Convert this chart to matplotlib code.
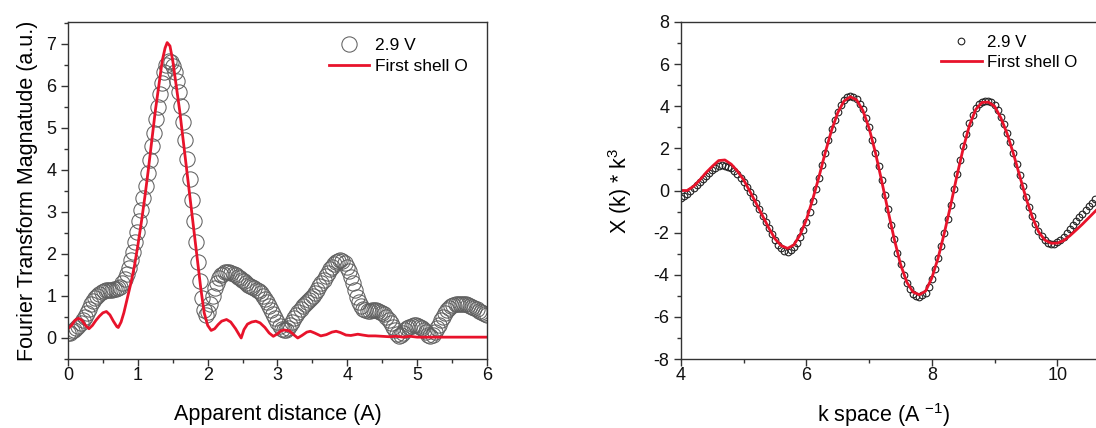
import numpy as np
import matplotlib
matplotlib.use('Agg')
import matplotlib.pyplot as plt
from matplotlib.ticker import MultipleLocator

plt.rcParams['font.family'] = ['Liberation Sans', 'DejaVu Sans']
plt.rcParams['mathtext.fontset'] = 'custom'
plt.rcParams['mathtext.rm'] = 'Liberation Sans'
plt.rcParams['mathtext.it'] = 'Liberation Sans:italic'
plt.rcParams['axes.unicode_minus'] = False

# ---- left panel: FT magnitude vs R ----
r_data = np.round(np.arange(201) * 0.03, 2)
ft_data = [
    0.11, 0.13, 0.16, 0.19, 0.23, 0.29, 0.36, 0.44, 0.51, 0.60,
    0.70, 0.80, 0.88, 0.95, 1.01, 1.05, 1.09, 1.12, 1.14, 1.15,
    1.15, 1.15, 1.16, 1.17, 1.19, 1.22, 1.30, 1.40, 1.52, 1.67,
    1.85, 2.05, 2.28, 2.52, 2.78, 3.05, 3.32, 3.62, 3.92, 4.24,
    4.56, 4.88, 5.20, 5.50, 5.80, 6.08, 6.32, 6.50, 6.58, 6.57,
    6.48, 6.33, 6.12, 5.85, 5.52, 5.14, 4.72, 4.26, 3.78, 3.28,
    2.78, 2.28, 1.80, 1.35, 0.95, 0.66, 0.55, 0.62, 0.80, 1.00,
    1.18, 1.32, 1.42, 1.49, 1.53, 1.56, 1.57, 1.57, 1.55, 1.52,
    1.49, 1.46, 1.42, 1.38, 1.35, 1.31, 1.27, 1.24, 1.21, 1.18,
    1.15, 1.11, 1.06, 1.00, 0.93, 0.85, 0.76, 0.67, 0.58, 0.48,
    0.38, 0.29, 0.22, 0.18, 0.19, 0.24, 0.31, 0.39, 0.47, 0.55,
    0.62, 0.69, 0.75, 0.80, 0.85, 0.90, 0.95, 1.01, 1.08, 1.15,
    1.23, 1.31, 1.39, 1.47, 1.55, 1.63, 1.70, 1.76, 1.81, 1.84,
    1.85, 1.83, 1.78, 1.70, 1.59, 1.45, 1.30, 1.14, 0.98, 0.85,
    0.75, 0.69, 0.66, 0.65, 0.65, 0.66, 0.66, 0.66, 0.65, 0.63,
    0.60, 0.56, 0.51, 0.44, 0.36, 0.27, 0.18, 0.10, 0.05, 0.06,
    0.12, 0.19, 0.24, 0.27, 0.29, 0.30, 0.30, 0.29, 0.27, 0.24,
    0.20, 0.14, 0.08, 0.05, 0.07, 0.14, 0.23, 0.32, 0.42, 0.51,
    0.59, 0.66, 0.71, 0.75, 0.78, 0.80, 0.81, 0.82, 0.82, 0.81,
    0.80, 0.78, 0.76, 0.74, 0.71, 0.68, 0.65, 0.62, 0.60, 0.57,
    0.55,
]
r_fit = [0.0, 0.05, 0.1, 0.15, 0.2, 0.25, 0.3, 0.35, 0.4, 0.45, 0.5, 0.55,
         0.6, 0.65, 0.7, 0.72, 0.76, 0.8, 0.85, 0.9, 0.95, 1.0, 1.05, 1.1,
         1.15, 1.2, 1.25, 1.3, 1.35, 1.39, 1.42, 1.46, 1.5, 1.55, 1.6, 1.65,
         1.7, 1.75, 1.8, 1.85, 1.9, 1.95, 2.0, 2.05, 2.1, 2.15, 2.2, 2.27,
         2.33, 2.4, 2.45, 2.48, 2.52, 2.57, 2.63, 2.69, 2.75, 2.82, 2.88,
         2.94, 3.0, 3.05, 3.1, 3.17, 3.23, 3.29, 3.35, 3.42, 3.47, 3.53,
         3.62, 3.7, 3.78, 3.84, 3.9, 3.98, 4.05, 4.15, 4.22, 4.3, 4.4, 4.5,
         4.6, 4.7, 4.8, 4.9, 5.0, 5.2, 5.5, 6.0]
ft_fit = [0.22, 0.3, 0.42, 0.47, 0.42, 0.3, 0.22, 0.3, 0.42, 0.52, 0.6, 0.63,
          0.55, 0.4, 0.27, 0.25, 0.38, 0.6, 0.95, 1.3, 1.7, 2.2, 2.75, 3.35,
          4.0, 4.7, 5.4, 6.0, 6.6, 6.9, 7.03, 6.95, 6.6, 6.0, 5.4, 4.7,
          4.0, 3.3, 2.6, 1.9, 1.2, 0.6, 0.3, 0.18, 0.22, 0.32, 0.4, 0.44,
          0.38, 0.22, 0.08, 0.0, 0.2, 0.33, 0.38, 0.4, 0.36, 0.25, 0.12,
          0.04, 0.1, 0.17, 0.19, 0.17, 0.08, 0.0, 0.06, 0.14, 0.16, 0.12,
          0.05, 0.08, 0.14, 0.16, 0.13, 0.07, 0.06, 0.09, 0.07, 0.05, 0.05, 0.04,
          0.03, 0.04, 0.02, 0.04, 0.02, 0.02, 0.02, 0.02]

# ---- right panel: chi(k)*k^3 vs k ----
k_data = np.round(4.0 + np.arange(133) * 0.05, 2)
chi_data = [
    -0.35, -0.25, -0.15, -0.02, 0.10, 0.25, 0.40, 0.55, 0.70, 0.83,
    0.95, 1.06, 1.15, 1.20, 1.18, 1.13, 1.05, 0.93, 0.78, 0.60,
    0.40, 0.18, -0.05, -0.32, -0.60, -0.90, -1.20, -1.50, -1.80, -2.08,
    -2.35, -2.58, -2.75, -2.86, -2.90, -2.84, -2.70, -2.48, -2.20, -1.88,
    -1.50, -1.02, -0.50, 0.05, 0.60, 1.20, 1.80, 2.38, 2.90, 3.35,
    3.75, 4.05, 4.30, 4.45, 4.50, 4.46, 4.35, 4.13, 3.85, 3.45,
    3.00, 2.42, 1.80, 1.15, 0.50, -0.20, -0.90, -1.62, -2.30, -2.95,
    -3.50, -4.00, -4.40, -4.70, -4.90, -5.02, -5.05, -4.98, -4.85, -4.58,
    -4.20, -3.73, -3.20, -2.62, -2.00, -1.35, -0.70, 0.05, 0.80, 1.47,
    2.10, 2.68, 3.20, 3.60, 3.90, 4.10, 4.20, 4.25, 4.25, 4.18,
    4.05, 3.80, 3.50, 3.15, 2.75, 2.30, 1.80, 1.28, 0.75, 0.22,
    -0.30, -0.78, -1.20, -1.58, -1.90, -2.15, -2.35, -2.48, -2.55, -2.55,
    -2.45, -2.35, -2.20, -2.03, -1.85, -1.65, -1.45, -1.28, -1.10, -0.93,
    -0.75, -0.58, -0.40,
]
k_fit = [4.0, 4.1, 4.2, 4.3, 4.4, 4.5, 4.6, 4.7, 4.8, 4.9, 5.0, 5.1, 5.2,
         5.3, 5.4, 5.5, 5.6, 5.7, 5.8, 5.9, 6.0, 6.1, 6.2, 6.3, 6.4, 6.5,
         6.6, 6.7, 6.8, 6.9, 7.0, 7.1, 7.2, 7.3, 7.4, 7.5, 7.6, 7.7, 7.8,
         7.9, 8.0, 8.1, 8.2, 8.3, 8.4, 8.5, 8.6, 8.7, 8.8, 8.9, 9.0, 9.1,
         9.2, 9.3, 9.4, 9.5, 9.6, 9.7, 9.8, 9.9, 10.0, 10.1, 10.2, 10.3,
         10.4, 10.5, 10.6, 10.7]
chi_fit = [0.0, 0.0, 0.2, 0.5, 0.85, 1.15, 1.42, 1.45, 1.25, 0.92, 0.5,
           -0.05, -0.62, -1.2, -1.78, -2.3, -2.62, -2.75, -2.58, -2.1, -1.38,
           -0.42, 0.65, 1.8, 2.85, 3.7, 4.25, 4.45, 4.3, 3.8, 2.95, 1.8,
           0.45, -0.95, -2.3, -3.5, -4.35, -4.82, -4.95, -4.78, -4.15, -3.2,
           -2.0, -0.7, 0.7, 2.0, 3.1, 3.85, 4.18, 4.2, 4.0, 3.45, 2.7, 1.75,
           0.7, -0.35, -1.25, -1.95, -2.35, -2.5, -2.5, -2.38, -2.15, -1.88,
           -1.6, -1.3, -1.0, -0.7]

fig = plt.figure(figsize=(10.96, 4.28), dpi=100)
ax1 = fig.add_axes([68/1096, 69/428, 419/1096, 337/428])
ax2 = fig.add_axes([681/1096, 69/428, 439/1096, 337/428])

red = '#e8132b'
spine_c = '#333333'

ax1.plot(r_data, ft_data, 'o', mfc='none', mec='#606060', mew=0.75, ms=11, label='2.9 V')
ax1.plot(r_fit, ft_fit, '-', color=red, lw=2.0, label='First shell O')
ax1.set_xlim(0, 6)
ax1.set_ylim(-0.5, 7.52)
ax1.xaxis.set_major_locator(MultipleLocator(1))
ax1.xaxis.set_minor_locator(MultipleLocator(0.5))
ax1.yaxis.set_major_locator(MultipleLocator(1))
ax1.yaxis.set_minor_locator(MultipleLocator(0.5))
ax1.set_xlabel('Apparent distance (A)', fontsize=15.5, labelpad=14)
ax1.set_ylabel('Fourier Transform Magnatude (a.u.)', fontsize=15.5, labelpad=6)
ax1.legend(loc='upper left', bbox_to_anchor=(329/1096, 1 - 38/428),
           bbox_transform=fig.transFigure, frameon=False, fontsize=12.5,
           handlelength=2.3, handletextpad=0.35, borderpad=0, borderaxespad=0,
           labelspacing=0.35)

ax2.plot(k_data, chi_data, 'o', mfc='none', mec='#222222', mew=0.8, ms=4.8, label='2.9 V')
ax2.plot(k_fit, chi_fit, '-', color=red, lw=2.0, label='First shell O')
ax2.set_xlim(4, 11)
ax2.set_ylim(-8, 8)
ax2.xaxis.set_major_locator(MultipleLocator(2))
ax2.xaxis.set_minor_locator(MultipleLocator(1))
ax2.yaxis.set_major_locator(MultipleLocator(2))
ax2.yaxis.set_minor_locator(MultipleLocator(1))
ax2.set_xlabel('k space (A $^{-1}$)', fontsize=15.5)
ax2.xaxis.set_label_coords(0.462, -0.125)
ax2.xaxis.label.set_va('top')
ax2.set_ylabel('Χ (k) * k$^{3}$', fontsize=15.5, labelpad=14)
ax2.legend(loc='upper left', bbox_to_anchor=(941/1096, 1 - 35/428),
           bbox_transform=fig.transFigure, frameon=False, fontsize=12.2,
           handlelength=2.4, handletextpad=0.3, borderpad=0, borderaxespad=0,
           labelspacing=0.3)

for ax in (ax1, ax2):
    for s in ax.spines.values():
        s.set_color(spine_c)
        s.set_linewidth(1.0)
    ax.tick_params(which='both', direction='out', top=False, right=False,
                   colors=spine_c, labelcolor='#111111', labelsize=13)
    ax.tick_params(which='major', length=5, width=1)
    ax.tick_params(which='minor', length=3, width=1)
    ax.tick_params(axis='x', which='major', pad=1)

fig.savefig('out.png', dpi=100)
